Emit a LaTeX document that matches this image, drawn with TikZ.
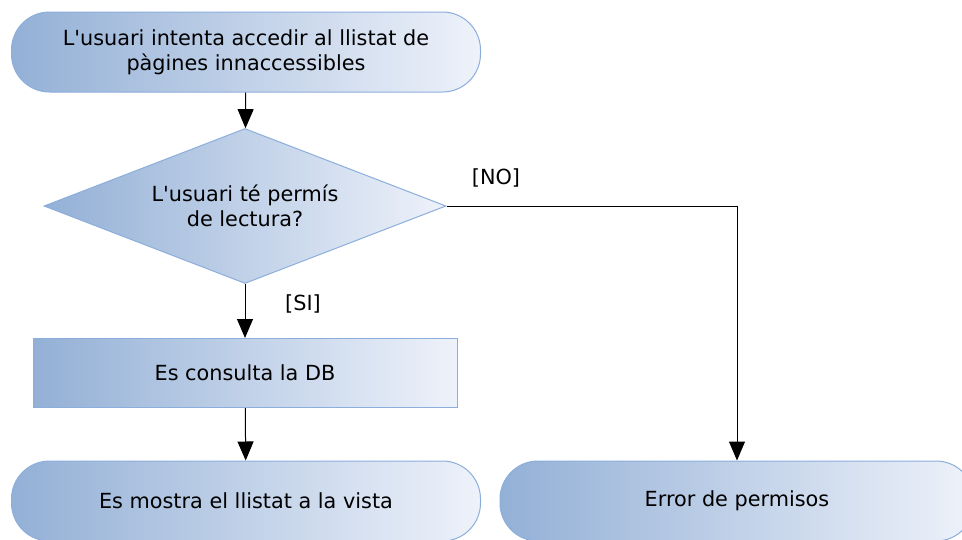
\documentclass[tikz,border=0pt]{standalone}
\usepackage{fontspec}
\setmainfont{DejaVu Sans}
\usetikzlibrary{shapes.geometric,arrows.meta}

\definecolor{flowdark}{HTML}{93B0D6}
\definecolor{flowlight}{HTML}{EEF2FA}
\definecolor{flowline}{HTML}{8CAEDC}

\tikzset{
  flowfill/.style={draw=flowline, line width=1pt, left color=flowdark, right color=flowlight,
    font=\fontsize{20.8}{25}\selectfont, align=center},
  terminal/.style={flowfill, rectangle, rounded corners=38pt, minimum width=469pt, minimum height=80pt},
  decision/.style={flowfill, diamond, aspect=2.6, inner sep=0pt, minimum width=402pt, minimum height=155pt},
  process/.style={flowfill, rectangle, minimum width=424pt, minimum height=69pt},
  guard/.style={font=\fontsize{20.8}{25}\selectfont}
}

\begin{document}
\begin{tikzpicture}[x=1pt, y=-1pt, >={Triangle[length=19pt,width=16pt]}, line width=1pt]
  \useasboundingbox (0,0) rectangle (962,539);

  % shapes
  \node[terminal] (start) at (246,52) {L\textquotesingle usuari intenta accedir al llistat de\\pàgines innaccessibles};
  \node[decision] (check) at (245,206) {L\textquotesingle usuari té permís\\de lectura?};
  \node[process] (query) at (245,373) {Es consulta la DB};
  \node[terminal] (show) at (246,501) {Es mostra el llistat a la vista};
  \node[terminal, minimum width=474pt] (error) at (737,501) {Error de permisos};

  % connectors
  \draw[->] (start) -- (check);
  \draw[->] (check) -- (query);
  \draw[->] (query) -- (show);
  \draw[->] (check.east) -| (error);

  % guards
  \node[guard] (yeslabel) at (303,304) {[SI]};
  \node[guard] (nolabel) at (496,178) {[NO]};

\end{tikzpicture}
\end{document}
